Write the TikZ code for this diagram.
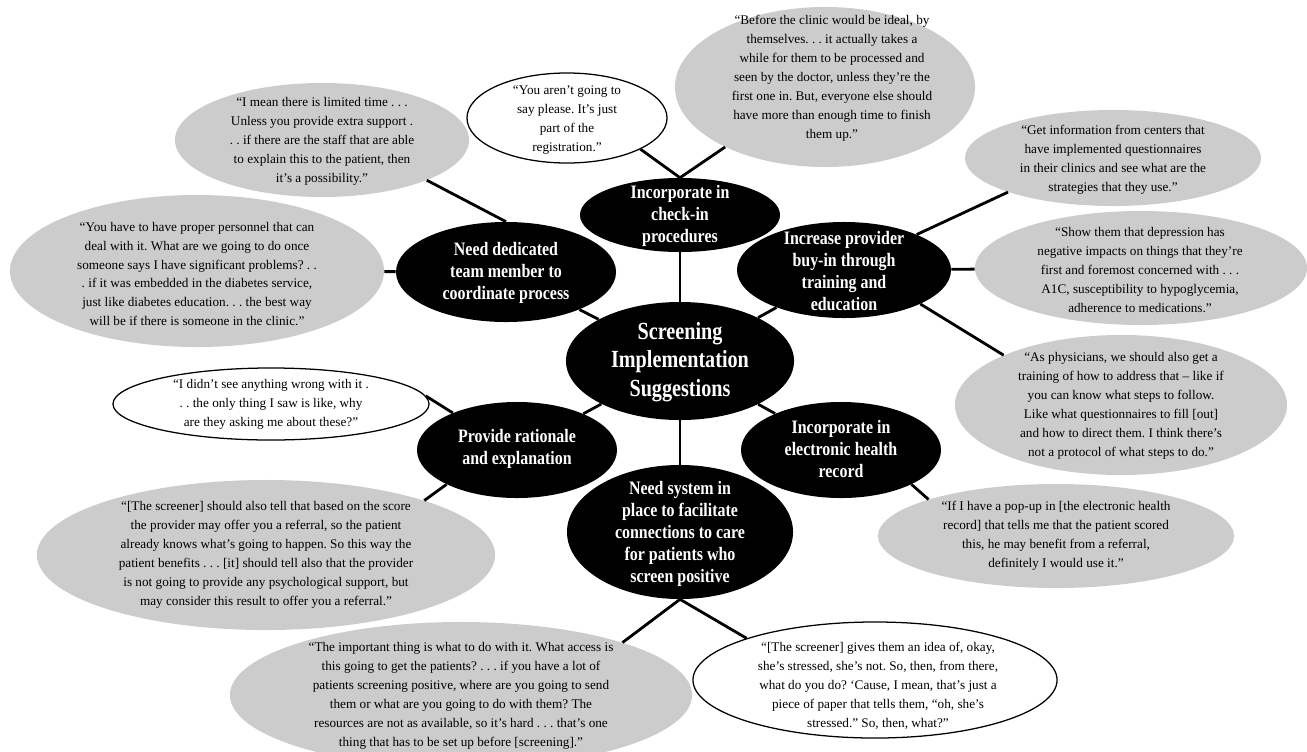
\documentclass[tikz,border=0pt]{standalone}
\usepackage{fontspec}
\setmainfont{Liberation Serif}
\newfontfamily\hdfont[FakeStretch=0.84]{Liberation Serif}
\newfontfamily\hdcfont[FakeStretch=0.82]{Liberation Serif}
\usetikzlibrary{shapes.geometric}
\definecolor{qgray}{RGB}{204,204,204}
\frenchspacing
\begin{document}
\begin{tikzpicture}[x=0.025cm, y=-0.025cm,
  hub/.style={ellipse, fill=black, inner sep=0pt},
  hubt/.style={align=center, inner sep=0pt, text=white, font=\hdfont\bfseries\fontsize{13.5}{15.7}\selectfont},
  ctrt/.style={align=center, inner sep=0pt, text=white, font=\hdcfont\bfseries\fontsize{17.5}{20.2}\selectfont},
  gb/.style={ellipse, fill=qgray, inner sep=0pt},
  wb/.style={ellipse, draw=black, line width=0.9pt, fill=white, inner sep=0pt},
  qt/.style={align=center, inner sep=0pt, font=\fontsize{9.4}{13.5}\selectfont},
  link/.style={line width=2pt, black}]
\useasboundingbox (0,0) rectangle (1307,751);
\clip (0,0) rectangle (1307,751);

% hub ellipses
\node[hub, minimum width=5.70cm, minimum height=2.95cm] (c) at (680,361) {};
\node[hub, minimum width=5.00cm, minimum height=1.85cm] (ci) at (680,215) {};
\node[hub, minimum width=5.50cm, minimum height=2.50cm] (dd) at (506,272) {};
\node[hub, minimum width=5.35cm, minimum height=2.40cm] (ib) at (844,270) {};
\node[hub, minimum width=5.00cm, minimum height=2.40cm] (pr) at (517,450) {};
\node[hub, minimum width=5.00cm, minimum height=2.40cm] (eh) at (841,450) {};
\node[hub, minimum width=5.65cm, minimum height=3.35cm] (ns) at (680,532) {};

\node[ctrt] (ct) at (680,362) {Screening\\Implementation\\Suggestions};
\node[hubt] (cit) at (680,216) {Incorporate in\\check-in\\procedures};
\node[hubt] (ddt) at (506,273) {Need dedicated\\team member to\\coordinate process};
\node[hubt] (ibt) at (844,271) {Increase provider\\buy-in through\\training and\\education};
\node[hubt] (prt) at (517,449) {Provide rationale\\and explanation};
\node[hubt] (eht) at (841,449) {Incorporate in\\electronic health\\record};
\node[hubt] (nst) at (680,534) {Need system in\\place to facilitate\\connections to care\\for patients who\\screen positive};

% quote bubbles
\node[gb, minimum width=7.35cm, minimum height=2.85cm] (q1) at (322,140) {};
\node[wb, minimum width=5.00cm, minimum height=2.25cm] (q2) at (567,118) {};
\node[gb, minimum width=7.50cm, minimum height=4.00cm] (q3) at (825,87) {};
\node[gb, minimum width=7.40cm, minimum height=2.40cm] (q4) at (1113,158) {};
\node[gb, minimum width=8.30cm, minimum height=2.85cm] (q5) at (1141,268) {};
\node[gb, minimum width=8.30cm, minimum height=3.50cm] (q6) at (1121,405) {};
\node[gb, minimum width=8.90cm, minimum height=2.60cm] (q7) at (1056,536) {};
\node[gb, minimum width=9.35cm, minimum height=3.80cm] (q8) at (197,271) {};
\node[wb, minimum width=7.90cm, minimum height=1.80cm] (q9) at (271,404) {};
\node[gb, minimum width=11.45cm, minimum height=3.75cm] (q10) at (266,555) {};
\node[gb, minimum width=11.55cm, minimum height=3.65cm] (q11) at (461,695) {};
\node[wb, minimum width=9.10cm, minimum height=2.90cm] (q12) at (875,680) {};

\node[qt] (q1t) at (322,141) {“I mean there is limited time . . .\\Unless you provide extra support .\\. . if there are the staff that are able\\to explain this to the patient, then\\it’s a possibility.”};
\node[qt] (q2t) at (567,120) {“You aren’t going to\\say please. It’s just\\part of the\\registration.”};
\node[qt] (q3t) at (832,78) {“Before the clinic would be ideal, by\\themselves. . . it actually takes a\\while for them to be processed and\\seen by the doctor, unless they’re the\\first one in. But, everyone else should\\have more than enough time to finish\\them up.”};
\node[qt] (q4t) at (1113,160) {“Get information from centers that\\have implemented questionnaires\\in their clinics and see what are the\\strategies that they use.”};
\node[qt] (q5t) at (1140,270) {“Show them that depression has\\negative impacts on things that they’re\\first and foremost concerned with . . .\\A1C, susceptibility to hypoglycemia,\\adherence to medications.”};
\node[qt] (q6t) at (1121,406) {“As physicians, we should also get a\\training of how to address that – like if\\you can know what steps to follow.\\Like what questionnaires to fill [out]\\and how to direct them. I think there’s\\not a protocol of what steps to do.”};
\node[qt] (q7t) at (1056,536) {“If I have a pop-up in [the electronic health\\record] that tells me that the patient scored\\this, he may benefit from a referral,\\definitely I would use it.”};
\node[qt] (q8t) at (197,274) {“You have to have proper personnel that can\\deal with it. What are we going to do once\\someone says I have significant problems? . .\\. if it was embedded in the diabetes service,\\just like diabetes education. . . the best way\\will be if there is someone in the clinic.”};
\node[qt] (q9t) at (271,404) {“I didn’t see anything wrong with it .\\. . the only thing I saw is like, why\\are they asking me about these?”};
\node[qt] (q10t) at (266,555) {“[The screener] should also tell that based on the score\\the provider may offer you a referral, so the patient\\already knows what's going to happen. So this way the\\patient benefits . . . [it] should tell also that the provider\\is not going to provide any psychological support, but\\may consider this result to offer you a referral.”};
\node[qt] (q11t) at (461,696) {“The important thing is what to do with it. What access is\\this going to get the patients? . . . if you have a lot of\\patients screening positive, where are you going to send\\them or what are you going to do with them? The\\resources are not as available, so it’s hard . . . that’s one\\thing that has to be set up before [screening].”};
\node[qt] (q12t) at (878,686) {“[The screener] gives them an idea of, okay,\\she’s stressed, she’s not. So, then, from there,\\what do you do? ‘Cause, I mean, that’s just a\\piece of paper that tells them, “oh, she’s\\stressed.” So, then, what?”};

% hub connectors
\draw[link] (c) -- (ci);
\draw[link] (c) -- (dd);
\draw[link] (c) -- (ib);
\draw[link] (c) -- (pr);
\draw[link] (c) -- (eh);
\draw[link] (c) -- (ns);

% quote connectors
\draw[link] (q2.-23) -- (ci.north) -- (q3.211);
\draw[link] (q1.-21) -- (dd.north);
\draw[link] (q8) -- (dd);
\draw[link] (q9.3) -- (pr.150);
\draw[link] (pr.206) -- (q10.19);
\draw[link] (ib.26) -- (q4.198);
\draw[link] (ib) -- (q5);
\draw[link] (ib.-24) -- (q6.157);
\draw[link] (eh.-26) -- (q7.164);
\draw[link] (q11.18) -- (ns.south) -- (q12.162);
\end{tikzpicture}
\end{document}
